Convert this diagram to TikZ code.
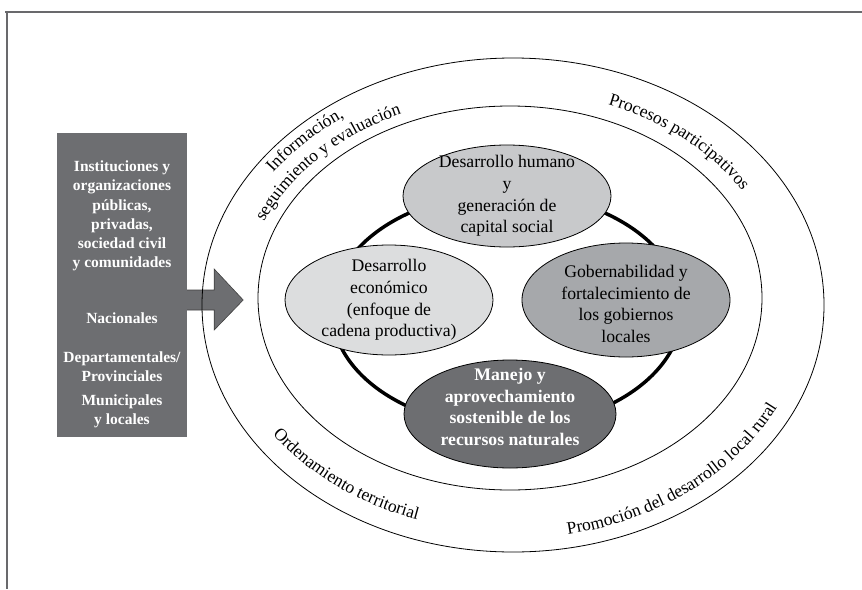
\documentclass[tikz,border=0pt]{standalone}
\usepackage{fontspec}
\setmainfont{Liberation Serif}
\usetikzlibrary{shapes.geometric,decorations.text}

\newlength{\du}
\setlength{\du}{1pt}
\newcommand{\rotfont}{\fontsize{17.5}{20}\selectfont}

\definecolor{boxgray}{RGB}{109,110,113}
\definecolor{humangray}{RGB}{200,201,203}
\definecolor{econgray}{RGB}{220,221,222}
\definecolor{govgray}{RGB}{166,168,171}
\definecolor{framegray}{RGB}{105,105,108}

\tikzset{
  eje/.style={ellipse, draw=black, line width=0.8\du, inner sep=0pt},
  ejetexto/.style={align=center, font=\fontsize{17.7}{21.6}\selectfont},
  actores/.style={align=center, text=white, font=\bfseries\fontsize{15.5}{19.2}\selectfont},
  rotulo/.style={decorate, decoration={text along path, text align=center, text={|\rotfont|#1}}},
}

\begin{document}
\begin{tikzpicture}
\useasboundingbox (0,0) rectangle (862\du,-589\du);
% marco
\draw[framegray, line width=1.2\du] (5\du,-12\du) -- (862\du,-12\du);
\draw[framegray, line width=2\du] (7\du,-12\du) -- (7\du,-589\du);

% actores
\node[fill=boxgray, minimum width=130\du, minimum height=304\du, inner sep=0pt] (actores) at (122\du,-285\du) {};
\node[actores] (instituciones) at (122\du,-216\du) {Instituciones y\\organizaciones\\públicas,\\privadas,\\sociedad civil\\y comunidades};
\node[actores] (nacionales) at (122\du,-318\du) {Nacionales};
\node[actores] (departamentales) at (122\du,-367\du) {Departamentales/\\Provinciales};
\node[actores] (municipales) at (122\du,-411\du) {Municipales\\y locales};

\fill[boxgray] ([yshift=-5\du]actores.east) -- ++(27\du,0) -- ++(0,21\du) -- ++(29\du,-31\du) -- ++(-29\du,-30\du) -- ++(0,20\du) -- ++(-27\du,0) -- cycle;
\draw[black!75, line width=0.6\du] ([yshift=-5\du]actores.east) -- ++(27\du,0) -- ++(0,21\du) -- ++(29\du,-31\du) -- ++(-29\du,-30\du) -- ++(0,20\du) -- ++(-27\du,0);

% anillos
\coordinate (centro) at (511\du,-302\du);
\draw[line width=0.8\du] (513\du,-305\du) ellipse [x radius=311\du, y radius=247\du];
\draw[line width=0.8\du] (510\du,-298\du) ellipse [x radius=252\du, y radius=192\du];
\draw[line width=3.5\du] (507\du,-310\du) ellipse [x radius=175\du, y radius=117\du];

\path[rotulo={Información,}] (centro) ++(189:290pt and 226pt) arc[start angle=189, end angle=89, x radius=290\du, y radius=226\du];
\path[rotulo={seguimiento y evaluación}] (centro) ++(189:268pt and 206pt) arc[start angle=189, end angle=89, x radius=268\du, y radius=206\du];
\path[rotulo={Procesos participativos}] (centro) ++(97:272pt and 211pt) arc[start angle=97, end angle=-3, x radius=272\du, y radius=211\du];
\path[rotulo={Ordenamiento territorial}] (centro) ++(180:291pt and 230pt) arc[start angle=180, end angle=280, x radius=291\du, y radius=230\du];
\path[rotulo={Promoción del desarrollo local rural}] (centro) ++(258:297pt and 237pt) arc[start angle=258, end angle=362, x radius=297\du, y radius=237\du];

% ejes
\node[eje, fill=humangray, minimum width=208\du, minimum height=102\du] (humano) at (507\du,-196\du) {};
\node[ejetexto] (humano-t) at (humano) {Desarrollo humano\\y\\generación de\\capital social};
\node[eje, fill=econgray, minimum width=208\du, minimum height=110\du] (economico) at (389\du,-300\du) {};
\node[ejetexto] (economico-t) at (economico) {Desarrollo\\económico\\(enfoque de\\cadena productiva)};
\node[eje, fill=govgray, minimum width=208\du, minimum height=114\du] (gobierno) at (626\du,-300\du) {};
\node[ejetexto] (gobierno-t) at ([yshift=-4\du]gobierno) {Gobernabilidad y\\fortalecimiento de\\los gobiernos\\locales};
\node[eje, fill=boxgray, minimum width=212\du, minimum height=108\du] (recursos) at (510\du,-414\du) {};
\node[ejetexto, text=white, font=\bfseries\fontsize{17.7}{21.6}\selectfont] (recursos-t) at ([yshift=7\du]recursos) {Manejo y\\aprovechamiento\\sostenible de los\\recursos naturales};
\end{tikzpicture}
\end{document}
